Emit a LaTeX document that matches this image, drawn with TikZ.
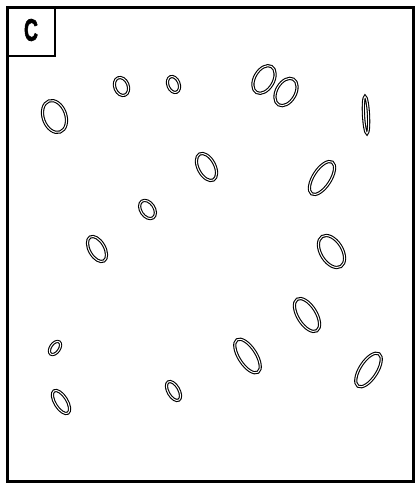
\documentclass[tikz,border=0pt]{standalone}
\usepackage{graphicx}
\usepackage{fontspec}
\setmainfont{Liberation Sans}
\newfontfamily\tagfont[BoldFeatures={FakeBold=2.5}]{Liberation Sans}
\usetikzlibrary{shapes.geometric}
\begin{document}
\begin{tikzpicture}[x=1pt,y=1pt,
  ring/.style={draw,ellipse,double,double distance=1pt,line width=1.1pt,inner sep=0pt},
  frame/.style={line width=3pt}]
\useasboundingbox (0,0) rectangle (419,483);
\draw[frame] (7,1.5) rectangle (413.5,475);
\draw[line width=2.5pt] (7,475) rectangle (55,427);
\node[inner sep=0pt] (tag) at (31,453) {\tagfont\fontsize{31}{31}\selectfont\bfseries\scalebox{.62}[1]{C}};
\path
(54.5,366.5) node[ring,minimum width=22.6pt,minimum height=33pt,rotate=20] (o1) {}
(121.5,396.5) node[ring,minimum width=13.4pt,minimum height=18.6pt,rotate=22] (o2) {}
(173.5,398.5) node[ring,minimum width=11.2pt,minimum height=16.6pt,rotate=22] (o3) {}
(264,403.5) node[ring,minimum width=19pt,minimum height=30pt,rotate=-30] (o4) {}
(286,391) node[ring,minimum width=19pt,minimum height=29.6pt,rotate=-30] (o5) {}
(366,368) node[ring,minimum width=5pt,minimum height=37pt,rotate=3] (o6) {}
(206.5,316) node[ring,minimum width=16.6pt,minimum height=29.4pt,rotate=28] (o7) {}
(322,305) node[ring,minimum width=17.2pt,minimum height=37.8pt,rotate=-33] (o8) {}
(147.5,273.5) node[ring,minimum width=13.4pt,minimum height=20pt,rotate=34] (o9) {}
(97,234) node[ring,minimum width=15.2pt,minimum height=27.6pt,rotate=30] (o10) {}
(331.5,231.5) node[ring,minimum width=21.4pt,minimum height=35.4pt,rotate=32] (o11) {}
(307,168) node[ring,minimum width=18.4pt,minimum height=37.2pt,rotate=32] (o12) {}
(55,135) node[ring,minimum width=8.8pt,minimum height=14.8pt,rotate=-35] (o13) {}
(61,81) node[ring,minimum width=12pt,minimum height=26.2pt,rotate=32] (o14) {}
(173.5,92) node[ring,minimum width=10.8pt,minimum height=21pt,rotate=30] (o15) {}
(247.5,127) node[ring,minimum width=17.2pt,minimum height=38.6pt,rotate=33] (o16) {}
(368.5,113) node[ring,minimum width=17.2pt,minimum height=38.6pt,rotate=-33] (o17) {};
\end{tikzpicture}
\end{document}
